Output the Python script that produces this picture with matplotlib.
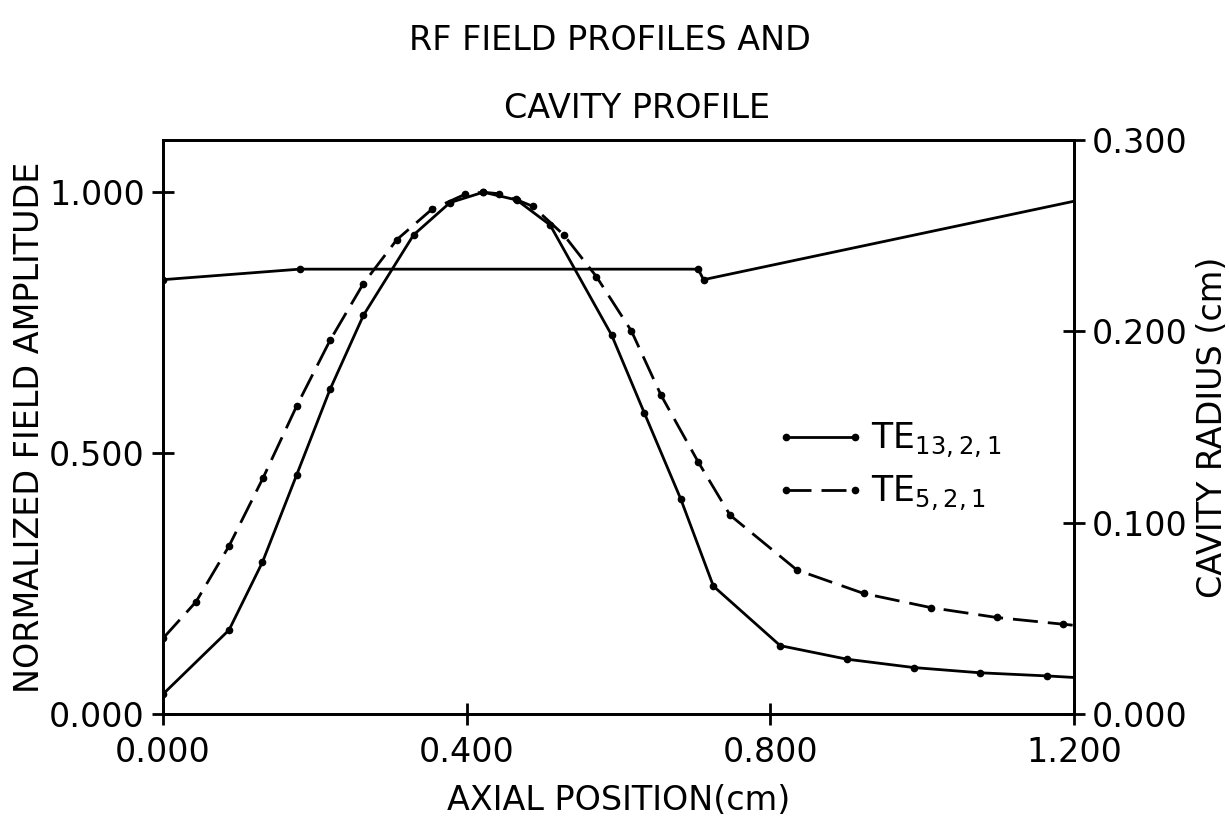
import matplotlib
matplotlib.use("Agg")
import matplotlib.pyplot as plt
from matplotlib.lines import Line2D
from matplotlib.legend_handler import HandlerLine2D

# ---- data ----
te13_x = [0.000, 0.087, 0.131, 0.176, 0.220, 0.264, 0.330, 0.378, 0.422, 0.466, 0.510,
          0.591, 0.634, 0.682, 0.725, 0.813, 0.901, 0.989, 1.076, 1.164, 1.200]
te13_y = [0.038, 0.161, 0.291, 0.458, 0.622, 0.764, 0.918, 0.980, 1.000, 0.985, 0.937,
          0.726, 0.577, 0.412, 0.245, 0.131, 0.105, 0.089, 0.079, 0.073, 0.070]

te5_x = [0.000, 0.0435, 0.087, 0.132, 0.176, 0.220, 0.264, 0.308, 0.354, 0.398, 0.421,
         0.443, 0.465, 0.487, 0.528, 0.571, 0.617, 0.656, 0.705, 0.747, 0.835, 0.923,
         1.011, 1.098, 1.186, 1.200]
te5_y = [0.145, 0.215, 0.322, 0.453, 0.590, 0.716, 0.825, 0.909, 0.967, 0.996, 1.000,
         0.997, 0.986, 0.973, 0.918, 0.838, 0.734, 0.611, 0.483, 0.381, 0.276, 0.231,
         0.204, 0.185, 0.172, 0.170]

cav_x = [0.000, 0.180, 0.705, 0.712, 1.200]
cav_y = [0.227, 0.2325, 0.2325, 0.227, 0.268]

x_ticks = [0.0, 0.4, 0.8, 1.2]
x_ticklabels = ["0.000", "0.400", "0.800", "1.200"]
yl_ticks = [0.0, 0.5, 1.0]
yl_ticklabels = ["0.000", "0.500", "1.000"]
yr_ticks = [0.0, 0.1, 0.2, 0.3]
yr_ticklabels = ["0.000", "0.100", "0.200", "0.300"]

label_te13 = r"TE$_{13,2,1}$"
label_te5 = r"TE$_{5,2,1}$"
title1 = "RF FIELD PROFILES AND"
title2 = "CAVITY PROFILE"

# ---- figure ----
plt.rcParams['font.family'] = ['DejaVu Sans']
plt.rcParams['mathtext.fontset'] = 'dejavusans'
FS = 24
W, H = 1229, 821
fig = plt.figure(figsize=(W / 100, H / 100), dpi=100)
L, R, B, T = 163, 1074, 714, 140
ax = fig.add_axes([L / W, 1 - B / H, (R - L) / W, (B - T) / H])
ax2 = ax.twinx()

lw = 2.0
ms = 4.5
ax.plot(te13_x, te13_y, color='black', lw=lw, marker='o', ms=ms,
        markevery=list(range(len(te13_x) - 1)), label=label_te13)
ax.plot(te5_x, te5_y, color='black', lw=lw, linestyle=(0, (9.0, 3.6)), marker='o', ms=ms,
        markevery=list(range(len(te5_x) - 1)), label=label_te5)
ax2.plot(cav_x, cav_y, color='black', lw=lw, marker='o', ms=ms,
         markevery=list(range(len(cav_x) - 1)))

ax.set_xlim(0, 1.2)
ax.set_ylim(0, 1.1)
ax2.set_ylim(0, 0.3)

ax.set_xticks(x_ticks)
ax.set_xticklabels(x_ticklabels)
ax.set_yticks(yl_ticks)
ax.set_yticklabels(yl_ticklabels)
ax2.set_yticks(yr_ticks)
ax2.set_yticklabels(yr_ticklabels)

for a in (ax, ax2):
    for s in a.spines.values():
        s.set_linewidth(2.0)
    a.tick_params(direction='inout', length=16, width=2.0, labelsize=FS, pad=5)
ax.tick_params(axis='x', pad=8)

ax.set_xlabel("AXIAL POSITION(cm)", fontsize=FS, va='center')
ax.xaxis.set_label_coords(0.5, (B - 800) / (B - T))
ax.set_ylabel("NORMALIZED FIELD AMPLITUDE", fontsize=FS, va='center')
ax.yaxis.set_label_coords((30 - L) / (R - L), 0.5)
ax2.set_ylabel("CAVITY RADIUS (cm)", fontsize=FS, va='center', rotation=90)
ax2.yaxis.set_label_coords((1212 - L) / (R - L), 0.5)

fig.text(610 / W, 1 - 40 / H, title1, fontsize=FS, ha='center', va='center')
fig.text(637 / W, 1 - 108 / H, title2, fontsize=FS, ha='center', va='center')

leg = ax.legend(loc='upper left', bbox_to_anchor=((786 - L) / (R - L), (B - 421) / (B - T)),
                frameon=False, handlelength=2.0, handletextpad=0.45,
                borderpad=0, borderaxespad=0, labelspacing=0.4, fontsize=25,
                handler_map={Line2D: HandlerLine2D(marker_pad=0, numpoints=2)})

fig.savefig("out.png", dpi=100)
